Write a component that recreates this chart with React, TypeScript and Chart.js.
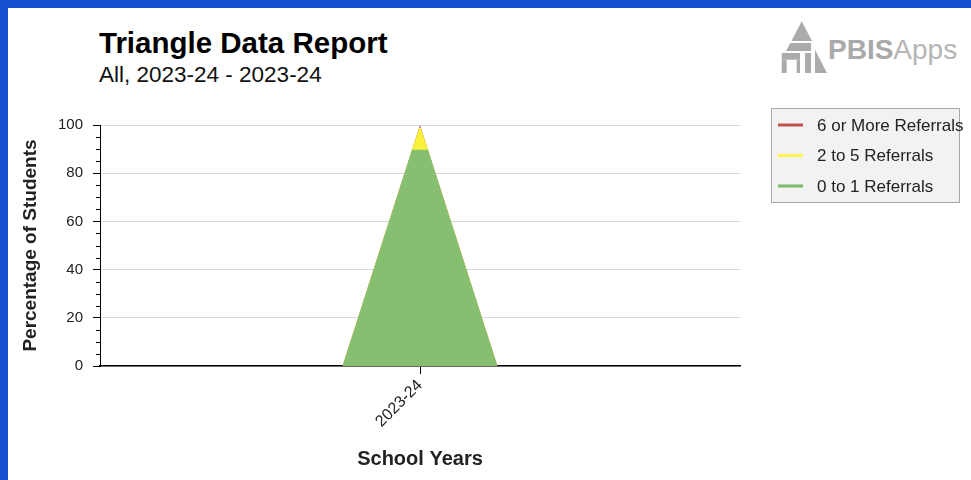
import React, { useEffect, useRef } from 'react';
import { Chart, registerables } from 'chart.js';

Chart.register(...registerables);

// ---- data ----
const categories = ['2023-24'];
const seriesLabels = ['6 or More Referrals', '2 to 5 Referrals', '0 to 1 Referrals'];
const sixOrMore = [1.2];
const twoToFive = [9.1];
const zeroToOne = [89.7];
const yMajorTicks = [0, 20, 40, 60, 80, 100];

// ---- styles ----
const fillColors = ['#c1504d', '#f8f03a', '#87bf70'];
const legendColors = ['#c0504d', '#fff24a', '#7cb96a'];
const FONT = '"Liberation Sans", Arial, Helvetica, sans-serif';
const TRI_HALF = 0.121; // half base of the triangle, in category units
const W = 963;
const H = 472;

function bandOutline(top: number, idx: number) {
  const frac = 1 - top / 100;
  return [
    { x: idx - TRI_HALF, y: 0 },
    { x: idx - TRI_HALF * frac, y: top },
    { x: idx + TRI_HALF * frac, y: top },
    { x: idx + TRI_HALF, y: 0 },
  ];
}

const minorTicks = {
  id: 'minorTicks',
  afterDraw(chart: any) {
    const y = chart.scales.y;
    const ctx = chart.ctx;
    ctx.save();
    ctx.strokeStyle = '#000';
    ctx.lineWidth = 1;
    y.ticks.forEach((t: any) => {
      if (!yMajorTicks.includes(t.value)) {
        const py = Math.round(y.getPixelForValue(t.value)) + 0.5;
        ctx.beginPath();
        ctx.moveTo(y.right - 4, py);
        ctx.lineTo(y.right, py);
        ctx.stroke();
      }
    });
    ctx.restore();
  },
};

const boxLegend = {
  id: 'boxLegend',
  afterDraw(chart: any) {
    const ctx = chart.ctx;
    const x0 = chart.chartArea.right + 31;
    const y0 = chart.chartArea.top - 17;
    const w = 188;
    const h = 94;
    ctx.save();
    ctx.fillStyle = '#f2f2f2';
    ctx.fillRect(x0, y0, w, h);
    ctx.strokeStyle = '#a8a8a8';
    ctx.lineWidth = 1;
    ctx.strokeRect(x0 + 0.5, y0 + 0.5, w, h);
    chart.data.datasets.forEach((ds: any, i: number) => {
      const cy = y0 + 17 + i * 30.5;
      ctx.strokeStyle = legendColors[i];
      ctx.lineWidth = 3;
      ctx.beginPath();
      ctx.moveTo(x0 + 7, cy);
      ctx.lineTo(x0 + 32, cy);
      ctx.stroke();
      ctx.fillStyle = '#222';
      ctx.font = `17px ${FONT}`;
      ctx.textBaseline = 'middle';
      ctx.textAlign = 'left';
      ctx.fillText(ds.label, x0 + 46, cy + 1);
    });
    ctx.restore();
  },
};

function TriangleChart() {
  const ref = useRef<HTMLCanvasElement | null>(null);
  useEffect(() => {
    if (!ref.current) return;
    const greenTop = zeroToOne;
    const yellowTop = zeroToOne.map((v, i) => v + twoToFive[i]);
    const redTop = yellowTop.map((v, i) => v + sixOrMore[i]);
    const tops = [redTop, yellowTop, greenTop];
    const datasets = seriesLabels.map((label, s) => ({
      label,
      data: categories.flatMap((_, i) => bandOutline(tops[s][i], i)),
      backgroundColor: fillColors[s],
      borderColor: fillColors[s],
      borderWidth: 0,
      pointRadius: 0,
      pointHoverRadius: 0,
      tension: 0,
      fill: 'origin',
      order: seriesLabels.length - 1 - s,
    }));
    const chart = new Chart(ref.current, {
      type: 'line',
      data: { datasets: datasets as any },
      options: {
        animation: false,
        responsive: false,
        events: [],
        layout: { padding: { top: 117, right: W - 732, left: 0, bottom: 0 } },
        plugins: {
          legend: { display: false },
          tooltip: { enabled: false },
          title: { display: false },
        },
        scales: {
          x: {
            type: 'linear',
            min: -0.5,
            max: categories.length - 0.5,
            afterFit(scale: any) {
              scale.height = H - 358;
            },
            afterBuildTicks(scale: any) {
              scale.ticks = categories.map((_, i) => ({ value: i }));
            },
            ticks: {
              callback: (v: any) => categories[Math.round(Number(v))] ?? '',
              minRotation: 45,
              maxRotation: 45,
              autoSkip: false,
              padding: 2,
              color: '#222',
              font: { family: FONT, size: 16 },
            },
            grid: {
              drawOnChartArea: false,
              drawTicks: true,
              tickLength: 8,
              tickColor: '#000',
              tickWidth: 1,
            },
            border: { display: true, color: '#000', width: 1.5 },
            title: {
              display: true,
              text: 'School Years',
              color: '#222',
              font: { family: FONT, size: 20, weight: 'bold' },
              padding: { top: 4, bottom: 9 },
            },
          },
          y: {
            type: 'linear',
            min: 0,
            max: 100,
            afterFit(scale: any) {
              scale.width = 92;
            },
            ticks: {
              stepSize: 5,
              autoSkip: false,
              padding: 10,
              color: '#222',
              font: { family: FONT, size: 15 },
              callback: (v: any) => (yMajorTicks.includes(Number(v)) ? String(v) : ''),
            },
            grid: {
              drawOnChartArea: true,
              tickLength: 7,
              color: (c: any) =>
                c.tick && yMajorTicks.includes(c.tick.value) ? '#d6d6d6' : 'rgba(0,0,0,0)',
              tickColor: (c: any) =>
                c.tick && yMajorTicks.includes(c.tick.value) ? '#000' : 'rgba(0,0,0,0)',
            },
            border: { display: true, color: '#000', width: 1 },
            title: {
              display: true,
              text: 'Percentage of Students',
              color: '#222',
              font: { family: FONT, size: 19, weight: 'bold' },
              padding: { top: 11, bottom: 0 },
            },
          },
        },
      },
      plugins: [minorTicks, boxLegend],
    });
    return () => chart.destroy();
  }, []);
  return (
    <canvas
      ref={ref}
      width={W}
      height={H}
      style={{ position: 'absolute', left: 0, top: 0, width: W, height: H }}
    />
  );
}

function Logo() {
  const g = '#ababab';
  return (
    <svg
      width={200}
      height={64}
      style={{ position: 'absolute', left: 757, top: 10 }}
    >
      <polygon points="36.7,3.3 26.5,23 47,23" fill={g} />
      <polygon points="25.3,25 46,25 46,33 21.1,33" fill={g} />
      <rect x={16.7} y={35} width={18.3} height={6.7} fill={g} />
      <rect x={16.7} y={41.7} width={5} height={13.3} fill={g} />
      <rect x={31.7} y={41.7} width={3.3} height={13.3} fill={g} />
      <rect x={40} y={35} width={6} height={20} fill={g} />
      <polygon points="50,31.7 50,55 62,55" fill={g} />
      <text x={63} y={41} fontFamily={FONT} fontSize={28}>
        <tspan fontWeight="bold" fill="#a9a9a9">PBIS</tspan>
        <tspan fill="#b5b5b5">Apps</tspan>
      </text>
    </svg>
  );
}

export default function App() {
  useEffect(() => {
    document.body.style.margin = '8px 0 0 8px';
    document.body.style.background = '#1652d0';
    document.body.style.overflow = 'hidden';
  }, []);
  return (
    <div
      style={{
        position: 'relative',
        width: W,
        height: H,
        background: '#fff',
        overflow: 'hidden',
        fontFamily: FONT,
      }}
    >
      <div
        style={{
          position: 'absolute',
          left: 91,
          top: 20,
          fontSize: 29.5,
          lineHeight: 1,
          fontWeight: 'bold',
          color: '#000',
          whiteSpace: 'nowrap',
        }}
      >
        Triangle Data Report
      </div>
      <div
        style={{
          position: 'absolute',
          left: 91,
          top: 56,
          fontSize: 22.5,
          lineHeight: 1,
          color: '#111',
          whiteSpace: 'nowrap',
        }}
      >
        All, 2023-24 - 2023-24
      </div>
      <Logo />
      <TriangleChart />
    </div>
  );
}
